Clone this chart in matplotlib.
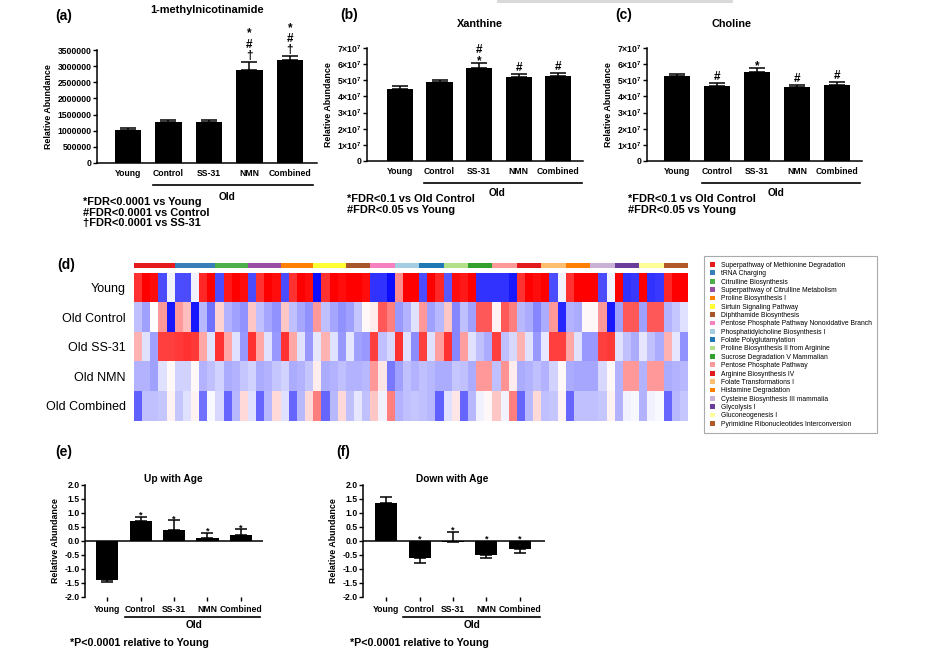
import numpy as np
import matplotlib
matplotlib.use("Agg")
import matplotlib.pyplot as plt
from matplotlib.colors import LinearSegmentedColormap, ListedColormap
from matplotlib.patches import Patch, Rectangle
from matplotlib.lines import Line2D

# ---- data ----
groups = ["Young", "Control", "SS-31", "NMN", "Combined"]

mnam_mean = [1030000, 1265000, 1270000, 2890000, 3180000]
mnam_err = [50000, 80000, 60000, 250000, 120000]
mnam_marks = ["", "", "", "*#†", "*#†"]

xan_mean = [4.47e7, 4.89e7, 5.79e7, 5.18e7, 5.28e7]
xan_err = [0.15e7, 0.12e7, 0.28e7, 0.18e7, 0.16e7]
xan_marks = ["", "", "#*", "#", "#"]

cho_mean = [5.24e7, 4.66e7, 5.53e7, 4.58e7, 4.72e7]
cho_err = [0.15e7, 0.17e7, 0.23e7, 0.14e7, 0.15e7]
cho_marks = ["", "#", "*", "#", "#"]

up_mean = [-1.39, 0.71, 0.38, 0.12, 0.20]
up_err = [0.08, 0.16, 0.36, 0.18, 0.22]
up_dir = [-1, 1, 1, 1, 1]
up_marks = ["", "*", "*", "*", "*"]

down_mean = [1.37, -0.62, -0.04, -0.50, -0.29]
down_err = [0.21, 0.15, 0.36, 0.10, 0.15]
down_dir = [1, -1, 1, -1, -1]
down_marks = ["", "*", "*", "*", "*"]

row_names = ["Young", "Old Control", "Old SS-31", "Old NMN", "Old Combined"]

hm_young = [1.6, 2.0, 1.9, -1.4, -0.1, -1.4, -1.4, -0.1, 1.7, 2.0, -1.4, 1.8, 2.0, 1.9, -1.4, 1.6, 2.0,
            1.9, -1.4, 1.6, 2.0, 1.9, -1.9, 1.6, 2.0, 1.9, 2.0, 2.0, 1.9, -1.6, -1.6, -1.9, 0.9, 2.0,
            2.0, -1.4, 2.0, 1.7, -1.3, 1.9, 1.8, 2.0, -1.6, -1.6, -1.6, -1.6, -1.8, 1.6, 2.0, 1.9, 2.0,
            -1.4, -0.1, 1.6, 2.0, 2.0, 2.0, -1.4, -0.1, 2.0, -1.6, -1.55, 2.0, -1.6, -1.55, 1.7, 2.0, 2.0]
hm_control = [-0.5, -0.75, 0.0, 0.8, -1.8, 0.8, 0.5, -1.8, -0.55, -1.1, 0.35, -0.6, -0.75, -0.85, 0.45, -0.5, -0.7,
              -0.85, 0.45, -0.5, -0.7, -0.85, 0.8, -0.5, -0.7, -0.85, -0.75, -0.45, 0.05, 0.15, 1.3, 1.0, -0.8, -0.6,
              -0.25, 0.8, -0.75, -0.55, 0.45, -0.95, -0.5, -0.75, 1.3, 1.3, 0.1, 1.3, 1.0, -0.55, -0.65, -0.95, -0.65,
              0.8, -1.7, -0.6, -0.65, 0.05, 0.05, 0.8, -1.8, -0.75, 1.3, 1.3, -0.75, 1.3, 1.3, -0.6, -0.45, -0.25]
hm_ss31 = [0.6, -0.25, -0.75, 1.5, 1.5, 1.55, 1.6, 1.55, 0.7, -0.25, 1.6, 0.7, -0.25, -0.8, 1.6, 0.7, -0.25,
           -0.8, 1.6, 0.7, -0.25, -0.8, -0.2, 0.6, -0.25, -0.8, -0.2, -0.75, -0.8, 1.5, -0.5, -0.3, 1.6, -0.25,
           -0.9, 1.5, -0.25, 0.75, 1.6, -0.95, 0.75, -0.25, -0.5, -0.65, 1.5, -0.5, -0.3, 0.6, -0.25, -0.8, -0.2,
           1.5, 1.5, 0.7, -0.25, -0.8, -0.8, 1.5, 1.55, -0.25, -0.5, -0.65, -0.2, -0.5, -0.65, 0.6, -0.2, -0.85]
hm_nmn = [-0.6, -0.6, -0.75, -0.25, 0.05, -0.35, -0.35, 0.05, -0.6, -0.5, -0.35, -0.65, -0.6, -0.45, -0.35, -0.65, -0.6,
          -0.45, -0.35, -0.65, -0.6, -0.45, 0.15, -0.65, -0.6, -0.5, -0.6, -0.6, -0.55, 0.8, 0.2, -1.05, -0.75, -0.5,
          -0.6, -0.5, -0.55, -0.65, -0.65, -0.45, -0.5, -0.65, 0.8, 0.8, -0.5, 0.85, 0.15, -0.65, -0.6, -0.5, -0.6,
          -0.35, 0.05, -0.65, -0.7, -0.7, -0.7, -0.3, 0.05, -0.6, 0.8, 0.8, -0.6, 0.8, 0.8, -0.65, -0.6, -0.55]
hm_combined = [-1.25, -0.5, -0.5, -0.45, 0.1, -0.45, -0.25, 0.1, -1.1, -0.05, -0.3, -1.2, -0.55, 0.3, -0.25, -1.2, -0.55,
               0.3, -0.25, -1.2, -0.55, 0.3, 1.0, -1.2, -0.55, 0.3, -0.5, -0.2, -0.5, 0.45, -0.1, 1.0, -0.6, -0.5,
               -0.45, -0.5, -0.55, -1.25, -0.25, 0.2, -1.2, -0.55, -0.1, 0.05, 0.45, -0.1, 1.0, -1.2, -0.55, 0.3, -0.5,
               -0.45, 0.1, -1.2, -0.5, -0.5, -0.5, -0.45, 0.1, -0.6, -0.1, -0.05, -0.6, -0.1, -0.05, -1.2, -0.55, -0.45]

pathways = ["Superpathway of Methionine Degradation", "tRNA Charging", "Citrulline Biosynthesis",
            "Superpathway of Citrulline Metabolism", "Proline Biosynthesis I", "Sirtuin Signaling Pathway",
            "Diphthamide Biosynthesis", "Pentose Phosphate Pathway Nonoxidative Branch",
            "Phosphatidylcholine Biosynthesis I", "Folate Polyglutamylation", "Proline Biosynthesis II from Arginine",
            "Sucrose Degradation V Mammalian", "Pentose Phosphate Pathway", "Arginine Biosynthesis IV",
            "Folate Transformations I", "Histamine Degradation", "Cysteine Biosynthesis III mammalia",
            "Glycolysis I", "Gluconeogenesis I", "Pyrimidine Ribonucleotides Interconversion"]
pathway_sizes = [5, 5, 4, 4, 4, 4, 3, 3, 3, 3, 3, 3, 3, 3, 3, 3, 3, 3, 3, 3]
pathway_colors = ["#e41a1c", "#377eb8", "#4daf4a", "#984ea3", "#ff7f00", "#ffff33", "#a65628", "#f781bf",
                  "#a6cee3", "#1f78b4", "#b2df8a", "#33a02c", "#fb9a99", "#e31a1c", "#fdbf6f", "#ff7f00",
                  "#cab2d6", "#6a3d9a", "#ffff99", "#b15928"]

# ---- figure setup (layout in pixels of the 949x660 picture) ----
W, H = 949, 660
plt.rcParams['font.family'] = ['Liberation Sans', 'DejaVu Sans']
plt.rcParams['mathtext.fontset'] = 'custom'
plt.rcParams['mathtext.rm'] = 'Liberation Sans'
plt.rcParams['mathtext.bf'] = 'Liberation Sans:bold'

fig = plt.figure(figsize=(W / 100, H / 100), dpi=100)


def px_axes(x0, y0, x1, y1):
    return fig.add_axes([x0 / W, 1 - y1 / H, (x1 - x0) / W, (y1 - y0) / H])


def px_text(x, y, s, **kw):
    kw.setdefault('va', 'center')
    fig.text(x / W, 1 - y / H, s, **kw)


def px_line(x0, x1, y, lw=1.2):
    fig.add_artist(Line2D([x0 / W, x1 / W], [1 - y / H, 1 - y / H], color='black', lw=lw))


def bar_panel(box, xlim, means, errs, dirs, marks, ylim, yticks, yticklabels,
              capsize=6, mark_size=8.5, zero_line=False):
    ax = px_axes(*box)
    x = np.arange(len(groups))
    ax.bar(x, means, width=0.66, color='black', zorder=2)
    lower = [e if d < 0 else 0 for e, d in zip(errs, dirs)]
    upper = [e if d > 0 else 0 for e, d in zip(errs, dirs)]
    ax.errorbar(x, means, yerr=[lower, upper], fmt='none', ecolor='black',
                elinewidth=1.1, capsize=capsize, capthick=1.1, zorder=3)
    ax.set_xlim(*xlim)
    ax.set_ylim(*ylim)
    ax.set_yticks(yticks)
    ax.set_yticklabels(yticklabels)
    ax.set_xticks(x)
    ax.set_xticklabels(groups)
    for lab in ax.get_xticklabels() + ax.get_yticklabels():
        lab.set_fontweight('bold')
        lab.set_fontsize(6.2)
    ax.tick_params(axis='y', length=3, width=1, pad=1)
    ax.spines['top'].set_visible(False)
    ax.spines['right'].set_visible(False)
    ax.spines['left'].set_linewidth(1.1)
    ax.spines['bottom'].set_linewidth(1.1)
    if zero_line:
        # axis drawn through zero, ticks + labels stay at the bottom
        ax.spines['bottom'].set_visible(False)
        ax.axhline(0, color='black', lw=1.1, zorder=4)
        ax.tick_params(axis='x', length=3, width=1, pad=3)
    else:
        ax.tick_params(axis='x', length=0, pad=4)
    ax.set_ylabel('Relative Abundance', fontsize=6.4, fontweight='bold', labelpad=3)
    # significance symbols stacked above each bar
    for xi, m, e, d, s in zip(x, means, errs, dirs, marks):
        top = max(0, m, m + e * d)
        off = 0
        for i, sym in enumerate(reversed(s)):
            if i == 0:
                off = -1 if sym == '*' else 3
            else:
                off += 11
            ax.annotate(sym, xy=(xi, top), xytext=(0, off * 0.72), textcoords='offset points',
                        ha='center', va='baseline', fontsize=mark_size, fontweight='bold',
                        annotation_clip=False)
    return ax


def sci_labels(vals):
    out = []
    for v in vals:
        out.append('0' if v == 0 else r'$\mathbf{%d{\times}10^{7}}$' % v)
    return out


# (a) 1-methylnicotinamide
bar_panel((97, 50, 317, 163), (-0.765, 4.67), mnam_mean, mnam_err, [1] * 5, mnam_marks,
          (0, 3500000), np.arange(0, 3500001, 500000),
          [str(v) for v in range(0, 3500001, 500000)])
px_text(55, 16, "(a)", fontsize=10, fontweight='bold')
px_text(207, 10, "1-methylnicotinamide", fontsize=7.9, fontweight='bold', ha='center')
px_line(153, 313, 185)
px_text(227, 197, "Old", fontsize=7.3, fontweight='bold', ha='center')
px_text(83, 202, "*FDR<0.0001 vs Young", fontsize=7.9, fontweight='bold')
px_text(83, 212.5, "#FDR<0.0001 vs Control", fontsize=7.9, fontweight='bold')
px_text(83, 223, "†FDR<0.0001 vs SS-31", fontsize=7.9, fontweight='bold')

# (b) Xanthine
bar_panel((367, 48, 583, 161), (-0.835, 4.63), xan_mean, xan_err, [1] * 5, xan_marks,
          (0, 7e7), np.arange(0, 7.01e7, 1e7), sci_labels(range(0, 8)))
px_text(340, 15, "(b)", fontsize=10, fontweight='bold')
px_text(480, 24, "Xanthine", fontsize=7.8, fontweight='bold', ha='center')
px_line(424, 582, 183)
px_text(497, 193, "Old", fontsize=7.3, fontweight='bold', ha='center')
px_text(347, 199, "*FDR<0.1 vs Old Control", fontsize=7.9, fontweight='bold')
px_text(347, 210, "#FDR<0.05 vs Young", fontsize=7.9, fontweight='bold')

# (c) Choline
bar_panel((647, 48, 862, 161), (-0.75, 4.62), cho_mean, cho_err, [1] * 5, cho_marks,
          (0, 7e7), np.arange(0, 7.01e7, 1e7), sci_labels(range(0, 8)))
px_text(615, 15, "(c)", fontsize=10, fontweight='bold')
px_text(731, 24, "Choline", fontsize=7.8, fontweight='bold', ha='center')
px_line(702, 860, 183)
px_text(776, 193, "Old", fontsize=7.3, fontweight='bold', ha='center')
px_text(628, 199, "*FDR<0.1 vs Old Control", fontsize=7.9, fontweight='bold')
px_text(628, 210, "#FDR<0.05 vs Young", fontsize=7.9, fontweight='bold')

# (d) heatmap
heat = np.array([hm_young, hm_control, hm_ss31, hm_nmn, hm_combined])
bwr = LinearSegmentedColormap.from_list("bwr2", ["#0000ff", "#ffffff", "#ff0000"])
ax_hm = px_axes(134, 272.7, 688, 420.7)
ax_hm.imshow(heat, cmap=bwr, vmin=-2, vmax=2, aspect='auto', interpolation='nearest')
ax_hm.set_xticks([])
ax_hm.set_yticks(range(len(row_names)))
ax_hm.set_yticklabels(row_names, fontsize=9)
ax_hm.tick_params(axis='y', length=0, pad=6)
for s in ax_hm.spines.values():
    s.set_visible(False)

col_groups = np.repeat(np.arange(len(pathways)), pathway_sizes)
ax_strip = px_axes(134, 262.7, 688, 268.3)
ax_strip.imshow(col_groups[np.newaxis, :], cmap=ListedColormap(pathway_colors),
                vmin=-0.5, vmax=len(pathways) - 0.5, aspect='auto', interpolation='nearest')
ax_strip.axis('off')
px_text(57, 265, "(d)", fontsize=10, fontweight='bold')

handles = [Patch(facecolor=c, edgecolor='none') for c in pathway_colors]
leg = fig.legend(handles, pathways, loc='upper left', bbox_to_anchor=(701 / W, 1 - 253 / H),
                 fontsize=4.9, handlelength=0.7, handleheight=0.7, handletextpad=0.9,
                 labelspacing=0.2, borderpad=0.8, fancybox=False, framealpha=1)
leg.get_frame().set_edgecolor('#aaaaaa')
leg.get_frame().set_linewidth(0.8)

# (e) Up with Age
bar_panel((85, 485, 263, 597), (-0.66, 4.66), up_mean, up_err, up_dir, up_marks,
          (-2, 2), np.arange(-2, 2.01, 0.5), [f"{v:.1f}" for v in np.arange(-2, 2.01, 0.5)],
          capsize=4.3, mark_size=6.5, zero_line=True)
px_text(55, 452, "(e)", fontsize=10, fontweight='bold')
px_text(173, 479, "Up with Age", fontsize=7.3, fontweight='bold', ha='center')
px_line(125, 260, 617)
px_text(194, 625, "Old", fontsize=7.3, fontweight='bold', ha='center')
px_text(70, 643, "*P<0.0001 relative to Young", fontsize=7.7, fontweight='bold')

# (f) Down with Age
bar_panel((363, 485, 545, 597), (-0.69, 4.75), down_mean, down_err, down_dir, down_marks,
          (-2, 2), np.arange(-2, 2.01, 0.5), [f"{v:.1f}" for v in np.arange(-2, 2.01, 0.5)],
          capsize=4.3, mark_size=6.5, zero_line=True)
px_text(336, 452, "(f)", fontsize=10, fontweight='bold')
px_text(452, 479, "Down with Age", fontsize=7.3, fontweight='bold', ha='center')
px_line(403, 540, 617)
px_text(472, 625, "Old", fontsize=7.3, fontweight='bold', ha='center')
px_text(350, 643, "*P<0.0001 relative to Young", fontsize=7.7, fontweight='bold')

# faint grey strip at the very top of the original picture
fig.add_artist(Rectangle((497 / W, 1 - 3 / H), (733 - 497) / W, 3 / H,
                         transform=fig.transFigure, color='#d9d9d9', lw=0))

fig.savefig("out.png", dpi=100)
